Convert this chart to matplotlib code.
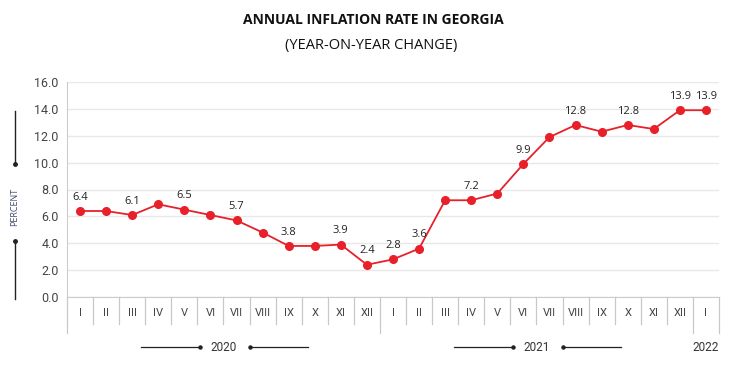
import matplotlib
matplotlib.use('Agg')
import matplotlib.pyplot as plt

months = ['I', 'II', 'III', 'IV', 'V', 'VI', 'VII', 'VIII', 'IX', 'X', 'XI', 'XII',
          'I', 'II', 'III', 'IV', 'V', 'VI', 'VII', 'VIII', 'IX', 'X', 'XI', 'XII',
          'I']
inflation = [6.4, 6.4, 6.1, 6.9, 6.5, 6.1, 5.7, 4.8, 3.8, 3.8, 3.9, 2.4,
             2.8, 3.6, 7.2, 7.2, 7.7, 9.9, 11.9, 12.8, 12.3, 12.8, 12.5, 13.9,
             13.9]
labelled = [0, 2, 4, 6, 8, 10, 11, 12, 13, 15, 17, 19, 21, 23, 24]
years = ['2020', '2021', '2022']
year_spans = [(0, 11), (12, 23), (24, 24)]
yticks = [0, 2, 4, 6, 8, 10, 12, 14, 16]

red = '#e8202a'
narrow = ['Liberation Sans Narrow', 'Roboto', 'DejaVu Sans']

fig = plt.figure(figsize=(7.47, 3.80), dpi=100)
ax = fig.add_axes([67 / 747, 83 / 380, 652 / 747, 215 / 380])

x = list(range(len(inflation)))
ax.plot(x, inflation, color=red, linewidth=1.3, marker='o', markersize=5.5,
        markerfacecolor=red, markeredgecolor=red, zorder=3)

for i in labelled:
    ax.annotate('{:.1f}'.format(inflation[i]), (i, inflation[i]), xytext=(0, 6),
                textcoords='offset points', ha='center', va='bottom',
                fontsize=8, color='#222222', family=['Open Sans', 'DejaVu Sans'])

ax.set_xlim(-0.5, len(inflation) - 0.5)
ax.set_ylim(0, 16)
ax.set_yticks(yticks)
ax.set_yticklabels(['{:.1f}'.format(v) for v in yticks], family=narrow,
                   fontsize=9, color='#444444')
ax.tick_params(axis='y', length=0, pad=6)
ax.set_xticks([])
ax.grid(axis='y', color='#e8e8e8', linewidth=1)
ax.set_axisbelow(True)
for side in ['right', 'top']:
    ax.spines[side].set_visible(False)
ax.spines['left'].set_color('#cccccc')
ax.spines['bottom'].set_color('#cccccc')

trans = ax.get_xaxis_transform()
# month labels and dividers
for i, m in enumerate(months):
    ax.text(i, -0.074, m, transform=trans, ha='center', va='center',
            fontsize=8, color='#444444', family=narrow, clip_on=False)
long_bounds = [-0.5, 11.5, 23.5, 24.5]
for k in range(len(months) + 1):
    b = k - 0.5
    y_end = -0.167 if b in long_bounds else -0.127
    ax.plot([b, b], [0, y_end], transform=trans, color='#c8c8c8',
            linewidth=0.9, clip_on=False)

# year labels with arrows
for name, (a, b) in zip(years, year_spans):
    c = (a + b) / 2
    ax.text(c, -0.233, name, transform=trans, ha='center', va='center',
            fontsize=8.5, color='#333333', family=narrow, clip_on=False)
    if b > a:
        ax.plot([c - 3.15, c - 0.9], [-0.233, -0.233], transform=trans,
                color='#222222', linewidth=0.9, clip_on=False)
        ax.plot([c - 0.9], [-0.233], 'o', transform=trans, color='#222222',
                markersize=2.2, clip_on=False)
        ax.plot([c + 1.02, c + 3.25], [-0.233, -0.233], transform=trans,
                color='#222222', linewidth=0.9, clip_on=False)
        ax.plot([c + 1.02], [-0.233], 'o', transform=trans, color='#222222',
                markersize=2.2, clip_on=False)

# vertical "PERCENT" label with lines
fig.text(15 / 747, 1 - 207 / 380, 'PERCENT', rotation=90, ha='center',
         va='center', fontsize=6.5, color='#3d4a6b', family=['Open Sans', 'DejaVu Sans'])
fig.add_artist(plt.Line2D([15 / 747, 15 / 747], [1 - 111 / 380, 1 - 164 / 380],
                          color='#222222', linewidth=1))
fig.add_artist(plt.Line2D([15 / 747, 15 / 747], [1 - 241 / 380, 1 - 299 / 380],
                          color='#222222', linewidth=1))
fig.add_artist(plt.Line2D([15 / 747], [1 - 164 / 380], marker='o',
                          color='#222222', markersize=2.5))
fig.add_artist(plt.Line2D([15 / 747], [1 - 241 / 380], marker='o',
                          color='#222222', markersize=2.5))

fig.text(373 / 747, 1 - 20 / 380, 'ANNUAL INFLATION RATE IN GEORGIA', ha='center',
         va='center', fontsize=10, fontweight='bold', color='#111111',
         family=['Open Sans', 'DejaVu Sans'])
fig.text(371 / 747, 1 - 46 / 380, '(YEAR-ON-YEAR CHANGE)', ha='center',
         va='center', fontsize=10.5, color='#111111',
         family=['Open Sans', 'DejaVu Sans'])

fig.savefig('out.png', dpi=100)
